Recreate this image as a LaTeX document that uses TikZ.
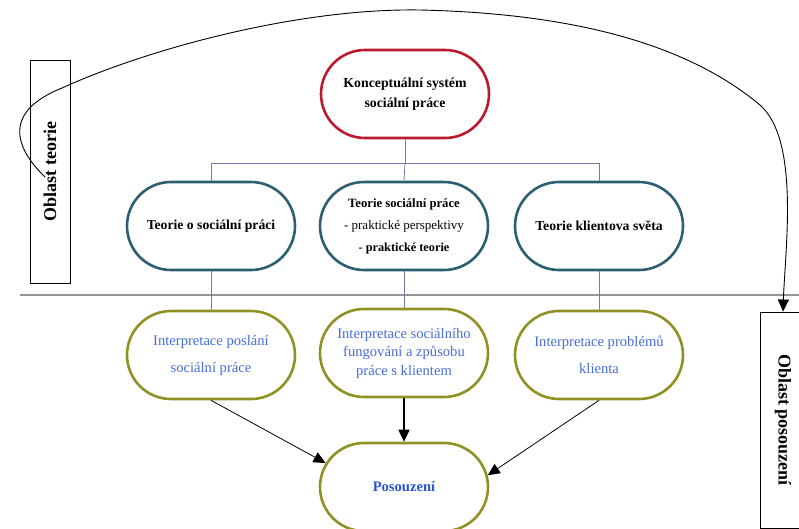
\documentclass[tikz,border=0pt]{standalone}
\usepackage{fontspec}
\setmainfont{Liberation Serif}
\usetikzlibrary{shapes.misc,arrows.meta}
\definecolor{cred}{RGB}{190,25,45}
\definecolor{cteal}{RGB}{45,95,115}
\definecolor{colive}{RGB}{145,145,35}
\definecolor{ctext}{RGB}{70,110,220}
\definecolor{cpos}{RGB}{40,85,205}
\definecolor{cbr}{RGB}{120,120,170}
\definecolor{cgrey}{RGB}{150,150,150}
\tikzset{
  stadium/.style={rounded rectangle, draw, line width=2.6pt, minimum width=168pt, minimum height=88pt, inner sep=0pt, align=center, fill=white},
  topbox/.style={stadium, draw=cred, font=\fontsize{13.8}{20}\selectfont\bfseries},
  tealbox/.style={stadium, draw=cteal, font=\fontsize{13}{22}\selectfont},
  olivebox/.style={stadium, draw=colive, text=ctext, font=\fontsize{14.6}{18.5}\selectfont},
  areabox/.style={draw, line width=0.9pt, inner sep=0pt, font=\fontsize{18}{20}\selectfont\bfseries},
  brline/.style={draw=cbr, line width=0.8pt},
  arr/.style={-{Triangle[length=12pt,width=11pt]}, line width=0.8pt},
}
\begin{document}
\begin{tikzpicture}[x=1pt,y=-1pt]
\useasboundingbox (0,0) rectangle (799,528);
\clip (0,0) rectangle (799,528);
% long horizontal separator
\coordinate (hl1) at (20,295);
\coordinate (hl2) at (799,295);
\draw[cgrey, line width=1.2pt] (hl1) -- (hl2);
% area boxes
\node[areabox, rotate=90, minimum width=223pt, minimum height=40pt] (ot) at (50,171.5) {Oblast teorie};
\node[areabox, rotate=-90, minimum width=216pt, minimum height=46pt] (op) at (783,420) {Oblast posouzení};
% nodes
\node[topbox] (k) at (405,94) {Konceptuální systém\\sociální práce};
\node[tealbox, font=\fontsize{13.7}{22}\selectfont\bfseries] (t1) at (211,226) {Teorie o sociální práci};
\node[tealbox] (t2) at (404,226) {\fontsize{12.7}{22}\selectfont\bfseries Teorie sociální práce\\- praktické perspektivy\\\fontsize{12.3}{22}\selectfont\bfseries - praktické teorie};
\node[tealbox, font=\fontsize{13.7}{22}\selectfont\bfseries] (t3) at (599,226) {Teorie klientova světa};
\node[olivebox, font=\fontsize{14.6}{27}\selectfont] (y1) at (211,355) {Interpretace poslání\\sociální práce};
\node[olivebox] (y2) at (404,353) {Interpretace sociálního\\fungování a způsobu\\práce s klientem};
\node[olivebox, font=\fontsize{14.6}{27}\selectfont] (y3) at (599,355) {Interpretace problémů\\klienta};
\node[stadium, draw=colive, text=cpos, font=\fontsize{14.6}{16}\selectfont\bfseries] (p) at (404,487) {Posouzení};
% bracket lines
\coordinate (bm) at (k.south |- 0,163);
\coordinate (bl) at (t1.north |- 0,163);
\coordinate (br) at (t3.north |- 0,163);
\draw[brline] (k.south) -- (bm);
\draw[brline] (bl) -- (br);
\draw[brline] (bl) -- (t1.north);
\draw[brline] (bm) -- (t2.north);
\draw[brline] (br) -- (t3.north);
\draw[brline] (t1.south) -- (y1.north);
\draw[brline] (t2.south) -- (y2.north);
\draw[brline] (t3.south) -- (y3.north);
% arrows to Posouzení
\draw[arr] (y1.south) -- (p.163);
\draw[arr, line width=1.6pt] (y2.south) -- (p.north);
\draw[arr] (y3.south) -- (p.8);
% big curve
\coordinate (cs) at (45,177);
\draw[-{Triangle[length=12pt,width=11pt]}, line width=0.9pt]
  (cs) .. controls (15,148) and (2,112) .. (62,88)
  .. controls (150,48) and (300,8) .. (420,10)
  .. controls (600,14) and (700,55) .. (760,105)
  .. controls (800,140) and (785,250) .. (op.west);
\end{tikzpicture}
\end{document}
